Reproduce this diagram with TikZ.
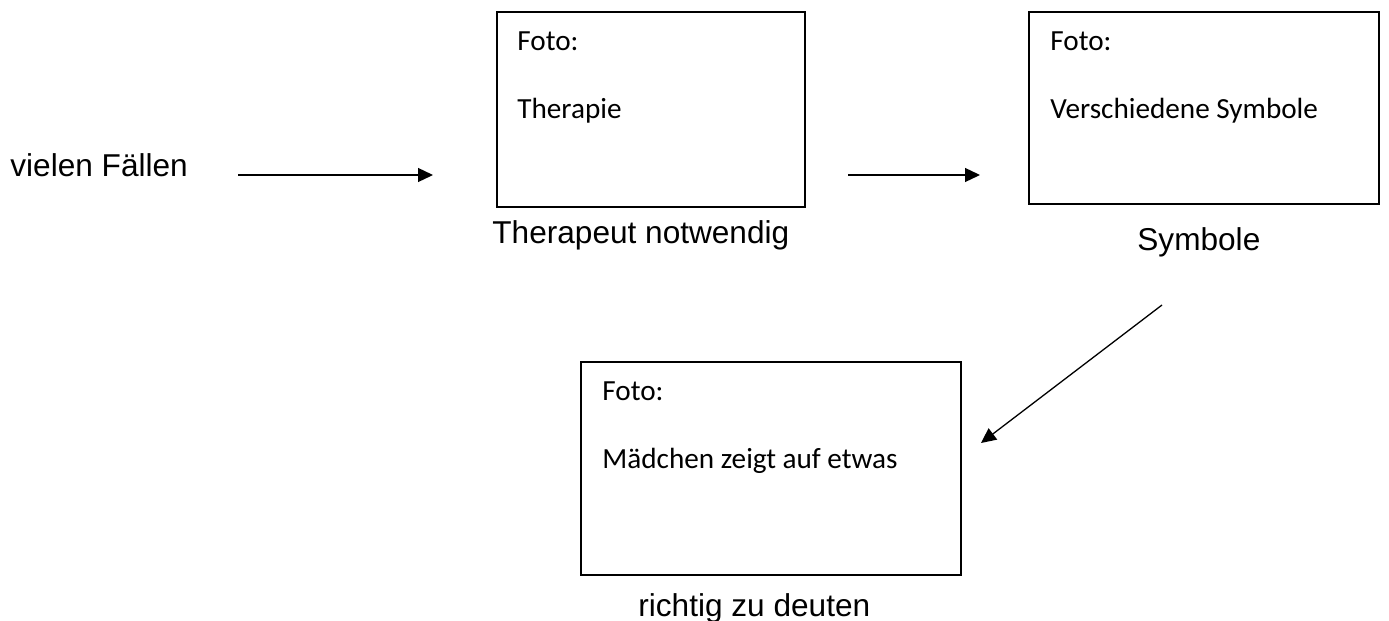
\documentclass[tikz,border=0pt]{standalone}
\usepackage{fontspec}
\setmainfont{Liberation Sans}
\newfontfamily\calib{Carlito}
\usetikzlibrary{arrows.meta}
\begin{document}
\begin{tikzpicture}[x=0.5pt,y=-0.5pt,
  photobox/.style={draw=black,line width=0.65pt,inner sep=0pt,outer sep=0pt},
  boxtext/.style={anchor=base west,inner sep=0pt,font=\calib\fontsize{14.6pt}{17pt}\selectfont},
  labeltext/.style={anchor=base west,inner sep=0pt,font=\fontsize{15.8pt}{19pt}\selectfont},
  arr/.style={line width=0.65pt,-{Triangle[length=7.5pt,width=7pt]}}]
\useasboundingbox (0,0) rectangle (1389,621);
% boxes
\node[photobox,minimum width=154pt,minimum height=97.5pt] (b1) at (651,109.5) {};
\node[photobox,minimum width=175pt,minimum height=96pt] (b2) at (1204,108) {};
\node[photobox,minimum width=190pt,minimum height=106.5pt] (b3) at (771,468.5) {};
% box texts
\node[boxtext] (b1f) at (517,50) {Foto:};
\node[boxtext] (b1t) at (517,118) {Therapie};
\node[boxtext] (b2f) at (1050,50) {Foto:};
\node[boxtext] (b2t) at (1050,118) {Verschiedene Symbole};
\node[boxtext] (b3f) at (602,400) {Foto:};
\node[boxtext] (b3t) at (602,468) {Mädchen zeigt auf etwas};
% labels
\node[labeltext] (l0) at (10,176) {vielen Fällen};
\node[labeltext] (l1) at (492,243) {Therapeut notwendig};
\node[labeltext] (l2) at (1137,250) {Symbole};
\node[labeltext] (l3) at (638,616) {richtig zu deuten};
% arrows
\coordinate (a1s) at (238,175);
\coordinate (a1e) at (433,175);
\coordinate (a2s) at (848,175);
\coordinate (a2e) at (980,175);
\coordinate (a3s) at (1162,305);
\coordinate (a3e) at (981,443);
\draw[arr] (a1s) -- (a1e);
\draw[arr] (a2s) -- (a2e);
\draw[arr] (a3s) -- (a3e);
\end{tikzpicture}
\end{document}
